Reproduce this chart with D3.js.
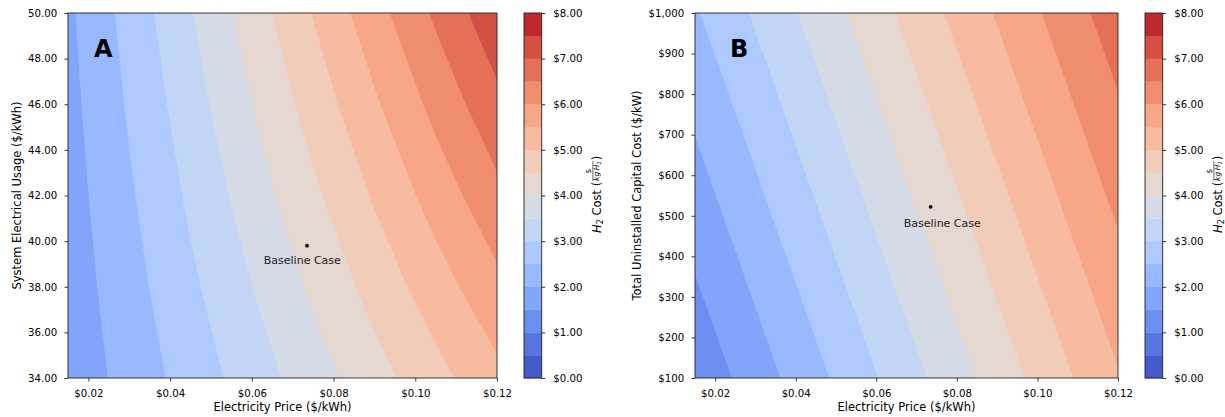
<!DOCTYPE html>
<html>
<head>
<meta charset="utf-8">
<script src="https://cdn.jsdelivr.net/npm/d3@7"></script>
<style>
  body { margin: 0; background: #fff; }
  svg { font-family: "DejaVu Sans", sans-serif; }
</style>
</head>
<body>
<svg></svg>
<script>
const width = 1225, height = 417;

// electricity price columns shared by both grids ($/kWh)
const prices = [0.015, 0.03, 0.045, 0.06, 0.075, 0.09, 0.105, 0.12];

// panel A rows: system electrical usage
const usages = [34, 38, 42, 46, 50];
const costA = [
  [1.655, 2.186, 2.716, 3.247, 3.777, 4.307, 4.838, 5.368],
  [1.718, 2.311, 2.903, 3.496, 4.089, 4.682, 5.275, 5.867],
  [1.780, 2.435, 3.091, 3.746, 4.401, 5.056, 5.711, 6.367],
  [1.843, 2.560, 3.278, 3.995, 4.713, 5.431, 6.148, 6.866],
  [1.905, 2.685, 3.465, 4.245, 5.025, 5.805, 6.585, 7.365]
];

// panel B rows: total uninstalled capital cost
const capitals = [100, 400, 700, 1000];
const costB = [
  [1.124, 1.743, 2.362, 2.982, 3.601, 4.220, 4.839, 5.458],
  [1.566, 2.185, 2.804, 3.423, 4.042, 4.662, 5.281, 5.900],
  [2.007, 2.626, 3.246, 3.865, 4.484, 5.103, 5.722, 6.342],
  [2.449, 3.068, 3.688, 4.307, 4.926, 5.545, 6.164, 6.783]
];

const levels = [0, 0.5, 1, 1.5, 2, 2.5, 3, 3.5, 4, 4.5, 5, 5.5, 6, 6.5, 7, 7.5, 8];
const bandColors = ['#445acc', '#5775e1', '#6c8ef1', '#82a5fb', '#98b9ff', '#aec9fd',
  '#c2d5f4', '#d5dbe6', '#e5d8d1', '#f1ccb9', '#f7bba0', '#f7a687',
  '#f18d6f', '#e57058', '#d55042', '#c0282f'];

const xTicks = [0.02, 0.04, 0.06, 0.08, 0.10, 0.12];
const yTicksA = [34, 36, 38, 40, 42, 44, 46, 48, 50];
const yTicksB = [100, 200, 300, 400, 500, 600, 700, 800, 900, 1000];
const cbTicks = [0, 1, 2, 3, 4, 5, 6, 7, 8];

const baseline = { price: 0.0735, usage: 39.8, capital: 522 };

const plotTop = 13, plotBottom = 378;
const svg = d3.select('svg').attr('width', width).attr('height', height);

function styleAxis(sel) {
  sel.attr('font-family', null).attr('font-size', null);
  sel.select('.domain').remove();
  sel.selectAll('line').attr('stroke', '#000').attr('stroke-width', 0.8);
  sel.selectAll('text').attr('fill', '#000').style('font-size', '10.2px');
}

function drawPanel(p) {
  const g = svg.append('g');
  const x = d3.scaleLinear().domain([0.015, 0.12]).range([p.left, p.right]);
  const y = d3.scaleLinear().domain([p.rows[0], p.rows[p.rows.length - 1]]).range([plotBottom, plotTop]);
  // grid index -> data value
  const col = d3.scaleLinear().domain([0, prices.length - 1]).range([prices[0], prices[prices.length - 1]]);
  const row = d3.scaleLinear().domain([0, p.rows.length - 1]).range([p.rows[0], p.rows[p.rows.length - 1]]);
  const proj = d3.geoTransform({
    point: function (px, py) { this.stream.point(x(col(px - 0.5)), y(row(py - 0.5))); }
  });
  const path = d3.geoPath(proj);

  const clipId = 'clip' + p.name;
  svg.append('clipPath').attr('id', clipId).append('rect')
    .attr('x', p.left).attr('y', plotTop).attr('width', p.right - p.left).attr('height', plotBottom - plotTop);

  const bands = d3.contours().size([prices.length, p.rows.length]).thresholds(levels)(p.grid.flat());
  g.append('g').attr('clip-path', `url(#${clipId})`)
    .selectAll('path').data(bands.filter(c => c.value < 8)).join('path')
    .attr('d', path)
    .attr('fill', c => bandColors[Math.round(c.value / 0.5)]);

  // axes
  g.append('g').attr('transform', `translate(0,${plotBottom})`)
    .call(d3.axisBottom(x).tickValues(xTicks).tickFormat(d3.format('$.2f'))
      .tickSize(3.5).tickPadding(8.2).tickSizeOuter(0))
    .call(styleAxis);
  g.append('g').attr('transform', `translate(${p.left},0)`)
    .call(d3.axisLeft(y).tickValues(p.yTicks).tickFormat(p.yFormat)
      .tickSize(3.5).tickPadding(7.3).tickSizeOuter(0))
    .call(styleAxis);

  g.append('rect').attr('x', p.left).attr('y', plotTop)
    .attr('width', p.right - p.left).attr('height', plotBottom - plotTop)
    .attr('fill', 'none').attr('stroke', '#222').attr('stroke-width', 0.9);

  g.append('text').attr('x', (p.left + p.right) / 2).attr('y', 410.8)
    .attr('text-anchor', 'middle').style('font-size', '11.5px').text('Electricity Price ($/kWh)');
  g.append('text').attr('transform', `translate(${p.ylabelX},${(plotTop + plotBottom) / 2}) rotate(-90)`)
    .attr('text-anchor', 'middle').style('font-size', '11.5px').text(p.ylabel);

  g.append('text').attr('x', p.letterX).attr('y', 57)
    .style('font-size', '24px').style('font-weight', 'bold').text(p.name);

  // baseline marker
  const bx = x(baseline.price), by = y(baseline[p.key]);
  g.append('circle').attr('cx', bx).attr('cy', by).attr('r', 1.9).attr('fill', '#000');
  g.append('text').attr('x', bx + p.noteDx).attr('y', by + p.noteDy)
    .attr('text-anchor', 'middle').style('font-size', '11px').attr('fill', '#222').text('Baseline Case');

  // colorbar
  const cb = d3.scaleLinear().domain([0, 8]).range([plotBottom, plotTop]);
  const cg = svg.append('g');
  cg.selectAll('rect').data(bandColors).join('rect')
    .attr('x', p.cbLeft).attr('width', p.cbWidth)
    .attr('y', (d, i) => cb(levels[i + 1]))
    .attr('height', (d, i) => cb(levels[i]) - cb(levels[i + 1]) + 0.3)
    .attr('fill', d => d);
  cg.append('rect').attr('x', p.cbLeft).attr('y', plotTop).attr('width', p.cbWidth)
    .attr('height', plotBottom - plotTop).attr('fill', 'none').attr('stroke', '#222').attr('stroke-width', 0.9);
  cg.append('g').attr('transform', `translate(${p.cbLeft + p.cbWidth},0)`)
    .call(d3.axisRight(cb).tickValues(cbTicks).tickFormat(d3.format('$.2f'))
      .tickSize(3.5).tickPadding(8).tickSizeOuter(0))
    .call(styleAxis);

  cbarLabel(p.cbLeft + p.cbWidth + 59, 188);
}

function cbarLabel(gx, gy) {
  const lg = svg.append('g').attr('transform', `translate(${gx},${gy}) rotate(-90)`);
  const start = -45;
  const t = lg.append('text').attr('x', start).attr('y', 0).style('font-size', '11.5px');
  t.append('tspan').style('font-style', 'italic').text('H');
  t.append('tspan').attr('dy', 2.6).style('font-size', '8px').text('2');
  t.append('tspan').attr('dy', -2.6).text('\u00a0Cost\u00a0(');
  const w = t.node().getComputedTextLength();
  const fx = start + w + 1;
  const den = lg.append('text').attr('x', fx).attr('y', -1.8).style('font-size', '7.5px');
  den.append('tspan').style('font-style', 'italic').text('kg\u2009H');
  den.append('tspan').attr('dy', 1.6).style('font-size', '5.5px').text('2');
  const fw = den.node().getComputedTextLength();
  lg.append('line').attr('x1', fx).attr('x2', fx + fw).attr('y1', -7.8).attr('y2', -7.8)
    .attr('stroke', '#000').attr('stroke-width', 0.6);
  lg.append('text').attr('x', fx + fw / 2).attr('y', -9.6).attr('text-anchor', 'middle')
    .style('font-size', '7.5px').text('$');
  lg.append('text').attr('x', fx + fw + 1).attr('y', 0).style('font-size', '11.5px').text(')');
}

drawPanel({
  name: 'A', key: 'usage', rows: usages, grid: costA,
  left: 68, right: 497, yTicks: yTicksA, yFormat: d3.format('.2f'),
  ylabel: 'System Electrical Usage ($/kWh)', ylabelX: 20.8,
  letterX: 94, noteDx: -4.7, noteDy: 18.7,
  cbLeft: 524, cbWidth: 17.7
});

drawPanel({
  name: 'B', key: 'capital', rows: capitals, grid: costB,
  left: 695, right: 1118, yTicks: yTicksB, yFormat: d3.format('$,'),
  ylabel: 'Total Uninstalled Capital Cost ($/kW)', ylabelX: 640.5,
  letterX: 730, noteDx: 11.6, noteDy: 20.6,
  cbLeft: 1145, cbWidth: 17.7
});
</script>
</body>
</html>
